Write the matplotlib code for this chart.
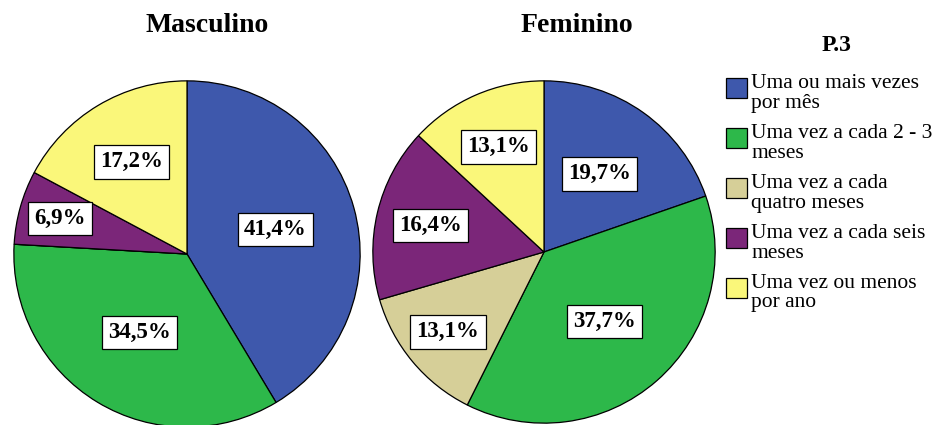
import matplotlib.pyplot as plt
from matplotlib.patches import Rectangle
import numpy as np

plt.rcParams['font.family'] = ['Liberation Serif', 'DejaVu Serif']

# data
categories = ["Uma ou mais vezes\npor mês", "Uma vez a cada 2 - 3\nmeses",
              "Uma vez a cada\nquatro meses", "Uma vez a cada seis\nmeses",
              "Uma vez ou menos\npor ano"]
masculino = [41.4, 34.5, 0.0, 6.9, 17.2]
feminino = [19.7, 37.7, 13.1, 16.4, 13.1]
legend_title = "P.3"

colors = ['#3E58AC', '#2DB84A', '#D6CF98', '#7B2679', '#FAF77A']

W, H = 942, 425
fig = plt.figure(figsize=(W / 100, H / 100), dpi=100)


def px_axes(cx, cy, r):
    return fig.add_axes([(cx - r) / W, (H - cy - r) / H, 2 * r / W, 2 * r / H])


def draw_pie(ax, values, label_r):
    wedges, _ = ax.pie(values, colors=colors, startangle=90, counterclock=False,
                       wedgeprops=dict(edgecolor='black', linewidth=0.9))
    for w, v, lr in zip(wedges, values, label_r):
        if v <= 0:
            continue
        ang = np.deg2rad((w.theta1 + w.theta2) / 2)
        ax.text(lr * np.cos(ang), lr * np.sin(ang), f"{v:.1f}%".replace('.', ','),
                ha='center', va='center', fontsize=16.5, fontweight='bold',
                bbox=dict(boxstyle='square,pad=0.27', fc='white', ec='black', lw=0.9))
    ax.set_xlim(-1.005, 1.005)
    ax.set_ylim(-1.005, 1.005)
    ax.axis('off')


ax1 = px_axes(187, 254, 174)
draw_pie(ax1, masculino, [0.53, 0.53, 0.7, 0.76, 0.62])
ax2 = px_axes(544, 252, 172)
draw_pie(ax2, feminino, [0.56, 0.54, 0.73, 0.68, 0.67])

fig.text(207 / W, 1 - 25 / H, "Masculino", ha='center', va='center',
         fontsize=20, fontweight='bold')
fig.text(577 / W, 1 - 25 / H, "Feminino", ha='center', va='center',
         fontsize=20, fontweight='bold')

# legend in pixel coordinates
lg = fig.add_axes([0, 0, 1, 1])
lg.set_xlim(0, W)
lg.set_ylim(H, 0)
lg.axis('off')
lg.text(837, 45, legend_title, ha='center', va='center', fontsize=17, fontweight='bold')
for i, (lab, c) in enumerate(zip(categories, colors)):
    top = 78 + i * 50
    lg.add_patch(Rectangle((726, top), 21, 20, fc=c, ec='black', lw=0.9))
    for j, line in enumerate(lab.split('\n')):
        lg.text(751, top + 10 + j * 19.5, line, ha='left', va='baseline', fontsize=15.5)

fig.savefig('out.png', dpi=100, facecolor='white')
